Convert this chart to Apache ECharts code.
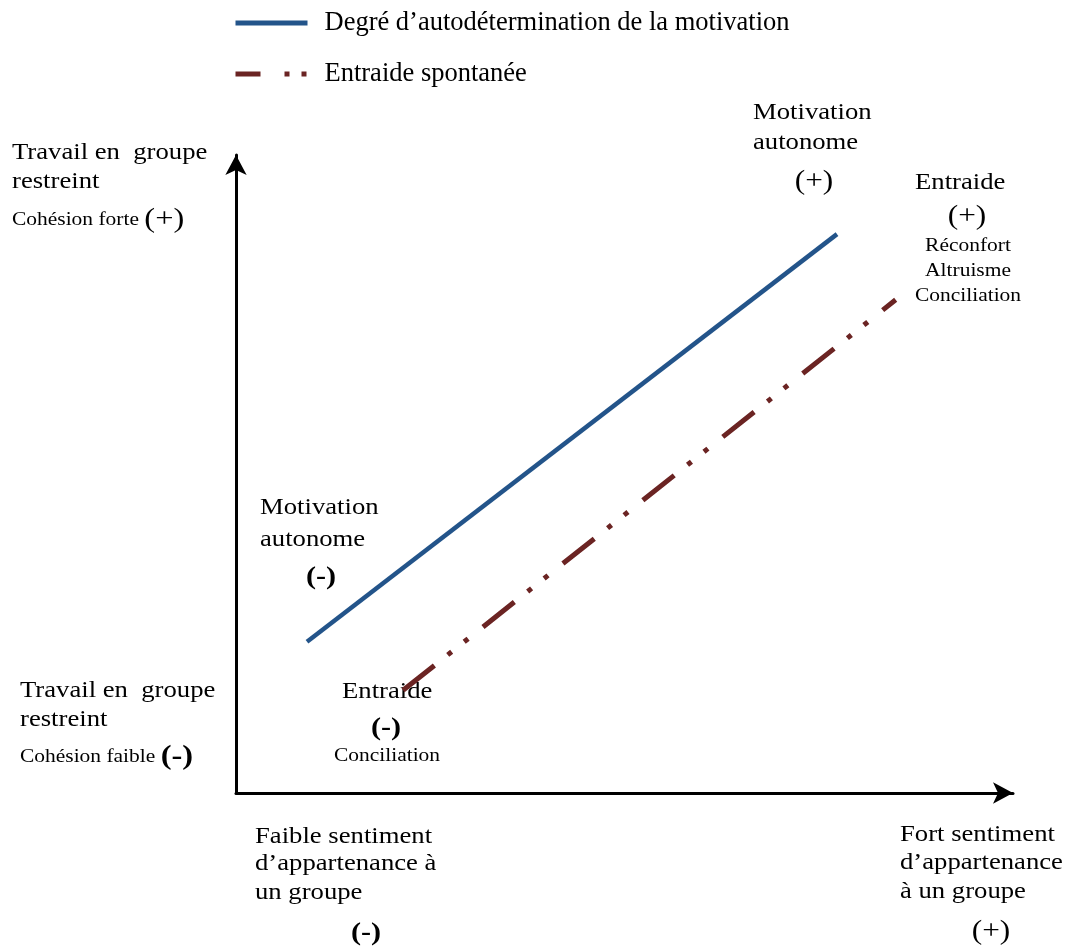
<!DOCTYPE html>
<html>
<head>
<meta charset="utf-8">
<script src="https://cdn.jsdelivr.net/npm/echarts@6/dist/echarts.min.js"></script>
<style>
html,body{margin:0;padding:0;background:#fff;}
#c{width:1073px;height:951px;}
</style>
</head>
<body>
<div id="c"></div>
<script>
// Data
var seriesNames = ['Degré d\u2019autodétermination de la motivation', 'Entraide spontanée'];
var motivationX = [9.14, 77.35];
var motivationY = [23.7, 87.6];
var entraideX = [21.5, 84.9];
var entraideY = [16.1, 77.3];

var FONT = '"Liberation Serif", "Times New Roman", serif';
var SX = 1.16;

function T(lines, x, y, size, align, bold) {
  return {
    type: 'text', x: x, y: y, scaleX: SX,
    style: {
      text: lines, fontFamily: FONT, fontSize: size, fill: '#000',
      fontWeight: bold ? 'bold' : 'normal',
      align: align || 'left', verticalAlign: 'middle'
    }
  };
}
function R(text, x, y) {
  return {
    type: 'text', x: x, y: y, scaleX: SX,
    style: {
      text: text, rich: richDef, fontFamily: FONT, fill: '#000',
      align: 'left', verticalAlign: 'middle'
    }
  };
}
var richDef = {
  s: {fontFamily: FONT, fontSize: 18.5, fill: '#000', verticalAlign: 'middle'},
  b: {fontFamily: FONT, fontSize: 28, fill: '#000', verticalAlign: 'middle'},
  bb: {fontFamily: FONT, fontSize: 28, fontWeight: 'bold', fill: '#000', verticalAlign: 'middle'}
};

var chart = echarts.init(document.getElementById('c'), null, {renderer: 'canvas'});
var option = {
  backgroundColor: '#fff',
  animation: false,
  legend: {
    orient: 'vertical',
    left: 233, top: 8, padding: 0,
    itemWidth: 72, itemHeight: 14, itemGap: 21,
    itemStyle: {opacity: 0},
    textStyle: {fontFamily: FONT, fontSize: 26.5, color: '#000', lineHeight: 30, padding: [0,0,0,12]},
    data: [
      {name: seriesNames[0], lineStyle: {width: 5, cap: 'butt'}},
      {name: seriesNames[1], lineStyle: {type: [25, 24, 5, 12, 5, 10], width: 5, cap: 'butt'}}
    ]
  },
  grid: {left: 236, right: 60, top: 155, bottom: 158, containLabel: false},
  xAxis: {
    type: 'value', min: 0, max: 100,
    axisLine: {show: true, onZero: false, symbol: ['none', 'arrow'], symbolSize: [16, 20],
      lineStyle: {color: '#000', width: 3}},
    axisTick: {show: false}, axisLabel: {show: false}, splitLine: {show: false}
  },
  yAxis: {
    type: 'value', min: 0, max: 100,
    axisLine: {show: true, onZero: false, symbol: ['none', 'arrow'], symbolSize: [16, 20],
      lineStyle: {color: '#000', width: 3}},
    axisTick: {show: false}, axisLabel: {show: false}, splitLine: {show: false}
  },
  series: [
    {
      name: seriesNames[0], type: 'line', symbol: 'none', silent: true,
      data: motivationX.map(function (x, i) { return [x, motivationY[i]]; }),
      lineStyle: {color: '#23548A', width: 4.5, cap: 'butt'},
      itemStyle: {color: '#23548A'}
    },
    {
      name: seriesNames[1], type: 'line', symbol: 'none', silent: true,
      data: entraideX.map(function (x, i) { return [x, entraideY[i]]; }),
      lineStyle: {color: '#6B2423', width: 5, type: [40, 17, 5, 16, 5, 19], cap: 'butt'},
      itemStyle: {color: '#6B2423'}
    }
  ],
  graphic: [
    T('Travail en  groupe', 12, 153, 23),
    T('restreint', 12, 182, 23),
    R('{s|Cohésion forte }{b|(+)}', 12, 220),
    T('Travail en  groupe', 20, 691, 23),
    T('restreint', 20, 720, 23),
    R('{s|Cohésion faible }{bb|(-)}', 20, 757),
    T('Motivation', 753, 113, 23),
    T('autonome', 753, 143, 23),
    T('(+)', 814, 182, 27, 'center'),
    T('Entraide', 915, 183, 23),
    T('(+)', 967, 217, 27, 'center'),
    T('Réconfort', 968, 246, 18.5, 'center'),
    T('Altruisme', 968, 271, 18.5, 'center'),
    T('Conciliation', 968, 296, 18.5, 'center'),
    T('Motivation', 260, 508, 23),
    T('autonome', 260, 540, 23),
    T('(-)', 321, 577, 26, 'center', true),
    T('Entraide', 342, 692, 23),
    T('(-)', 386, 728, 26, 'center', true),
    T('Conciliation', 387, 756, 18.5, 'center'),
    T('Faible sentiment', 255, 837, 23),
    T('d\u2019appartenance à', 255, 864, 23),
    T('un groupe', 255, 893, 23),
    T('(-)', 366, 933, 26, 'center', true),
    T('Fort sentiment', 900, 835, 23),
    T('d\u2019appartenance', 900, 863, 23),
    T('à un groupe', 900, 892, 23),
    T('(+)', 991, 932, 27, 'center')
  ]
};
chart.setOption(option);
</script>
</body>
</html>
